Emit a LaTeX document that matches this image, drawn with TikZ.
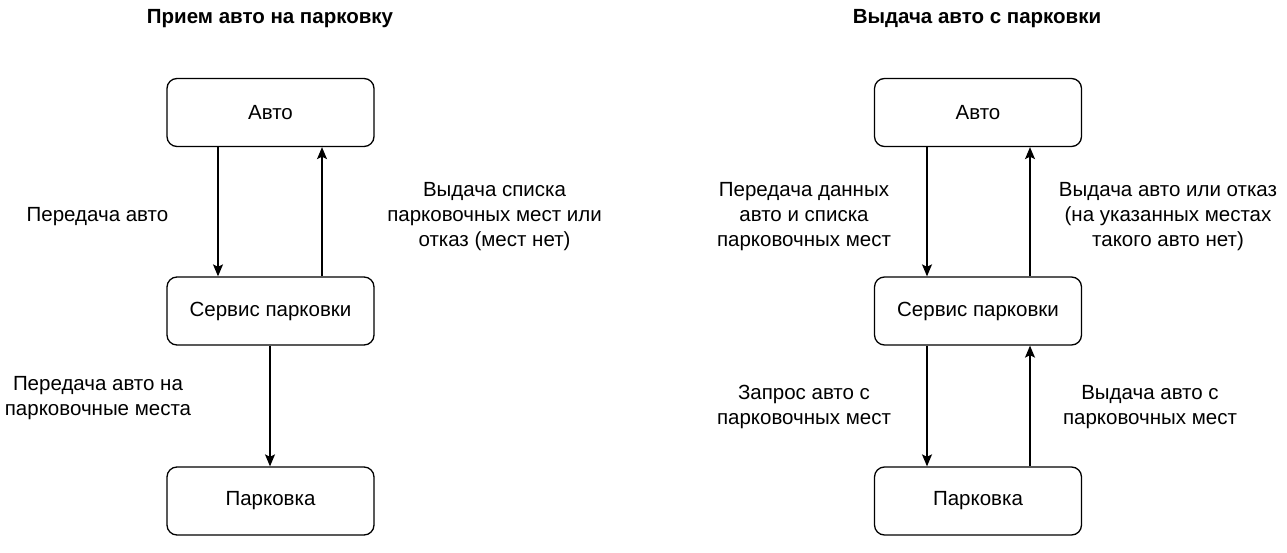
\documentclass[tikz,border=0pt]{standalone}
\usepackage{fontspec}
\setmainfont{Liberation Sans}
\usetikzlibrary{arrows.meta}
\tikzset{
  box/.style={draw, line width=1.3pt, rounded corners=10pt, minimum width=207pt, minimum height=68pt, font=\fontsize{20.5}{25}\selectfont, inner sep=0pt},
  lbl/.style={align=center, font=\fontsize{20.5}{25}\selectfont, inner sep=0pt},
  ttl/.style={font=\fontsize{20.5}{24}\selectfont\bfseries, inner sep=0pt},
  arr/.style={line width=1.3pt, -{Stealth[length=12pt, width=10pt, inset=2.5pt]}}
}
\begin{document}
\begin{tikzpicture}[x=1pt, y=-1pt]
\useasboundingbox (0,0) rectangle (1287,553);
% left diagram
\node[ttl] (t1) at (270,19) {Прием авто на парковку};
\node[box] (a1) at (270.5,112.5) {Авто};
\node[box] (s1) at (270.5,311) {Сервис парковки};
\node[box] (p1) at (270.5,501) {Парковка};
\draw[arr] ([xshift=-52.5pt]a1.south) -- ([xshift=-52.5pt]s1.north);
\draw[arr] ([xshift=51.5pt]s1.north) -- ([xshift=51.5pt]a1.south);
\draw[arr] ([xshift=-0.5pt]s1.south) -- ([xshift=-0.5pt]p1.north);
\node[lbl] (l1) at (97.5,216.5) {Передача авто};
\node[lbl] (l2) at (494.5,216.5) {Выдача списка\\парковочных мест или\\отказ (мест нет)};
\node[lbl] (l3) at (98,398) {Передача авто на\\парковочные места};
% right diagram
\node[ttl] (t2) at (977,19) {Выдача авто с парковки};
\node[box] (a2) at (978,112.5) {Авто};
\node[box] (s2) at (978,311) {Сервис парковки};
\node[box] (p2) at (978,501) {Парковка};
\draw[arr] ([xshift=-51pt]a2.south) -- ([xshift=-51pt]s2.north);
\draw[arr] ([xshift=52pt]s2.north) -- ([xshift=52pt]a2.south);
\draw[arr] ([xshift=-51pt]s2.south) -- ([xshift=-51pt]p2.north);
\draw[arr] ([xshift=52pt]p2.north) -- ([xshift=52pt]s2.south);
\node[lbl] (r1) at (804,216.5) {Передача данных\\авто и списка\\парковочных мест};
\node[lbl] (r2) at (1168,216.5) {Выдача авто или отказ\\(на указанных местах\\такого авто нет)};
\node[lbl] (r3) at (804,407) {Запрос авто с\\парковочных мест};
\node[lbl] (r4) at (1150,407) {Выдача авто с\\парковочных мест};
\end{tikzpicture}
\end{document}
